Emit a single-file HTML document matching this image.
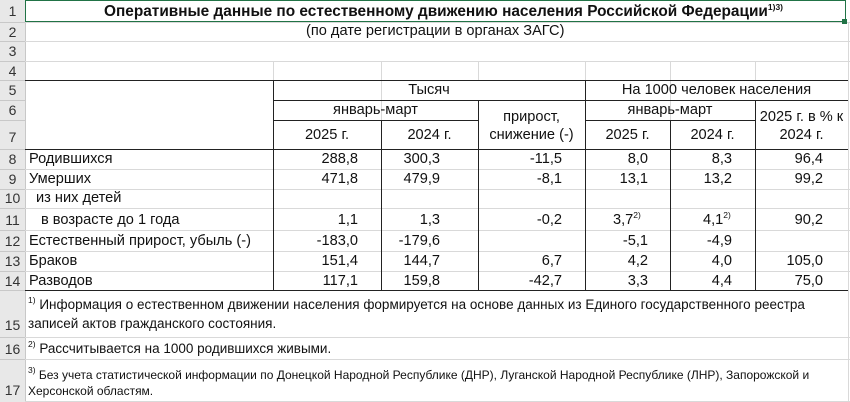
<!DOCTYPE html>
<html><head><meta charset="utf-8"><style>
body{margin:0;width:850px;height:402px;background:#fff;position:relative;overflow:hidden;font-family:"Liberation Sans",Arial,sans-serif;font-size:14.6px;color:#111}
.a{position:absolute;white-space:nowrap}
.h{position:absolute;background:#d9d9d9}
.v{position:absolute;background:#d9d9d9}
.bh{position:absolute;background:#222;height:1px}
.bv{position:absolute;background:#222;width:1px}
.rn{position:absolute;left:0;width:25px;text-align:center;color:#333;font-size:14px}
.r{text-align:right}
.c{text-align:center}
.f{font-size:13.5px}
sup{font-size:8.5px;vertical-align:6px;line-height:0}
</style></head><body>
<div style="position:absolute;left:0;top:0;width:25px;height:402px;background:#e8e8e8;border-right:1px solid #c8c8c8"></div>
<div class="h" style="left:25px;top:22px;width:825px;height:1px"></div>
<div class="h" style="left:25px;top:41px;width:825px;height:1px"></div>
<div class="h" style="left:25px;top:61px;width:825px;height:1px"></div>
<div class="h" style="left:25px;top:169px;width:825px;height:1px"></div>
<div class="h" style="left:25px;top:189px;width:825px;height:1px"></div>
<div class="h" style="left:25px;top:208px;width:825px;height:1px"></div>
<div class="h" style="left:25px;top:230px;width:825px;height:1px"></div>
<div class="h" style="left:25px;top:251px;width:825px;height:1px"></div>
<div class="h" style="left:25px;top:271px;width:825px;height:1px"></div>
<div class="h" style="left:25px;top:337px;width:825px;height:1px"></div>
<div class="h" style="left:25px;top:359px;width:825px;height:1px"></div>
<div class="h" style="left:25px;top:401px;width:825px;height:1px"></div>
<div class="h" style="left:0;top:22px;width:25px;height:1px;background:#c8c8c8"></div>
<div class="h" style="left:0;top:41px;width:25px;height:1px;background:#c8c8c8"></div>
<div class="h" style="left:0;top:61px;width:25px;height:1px;background:#c8c8c8"></div>
<div class="h" style="left:0;top:80px;width:25px;height:1px;background:#c8c8c8"></div>
<div class="h" style="left:0;top:100px;width:25px;height:1px;background:#c8c8c8"></div>
<div class="h" style="left:0;top:120px;width:25px;height:1px;background:#c8c8c8"></div>
<div class="h" style="left:0;top:149px;width:25px;height:1px;background:#c8c8c8"></div>
<div class="h" style="left:0;top:169px;width:25px;height:1px;background:#c8c8c8"></div>
<div class="h" style="left:0;top:189px;width:25px;height:1px;background:#c8c8c8"></div>
<div class="h" style="left:0;top:208px;width:25px;height:1px;background:#c8c8c8"></div>
<div class="h" style="left:0;top:230px;width:25px;height:1px;background:#c8c8c8"></div>
<div class="h" style="left:0;top:251px;width:25px;height:1px;background:#c8c8c8"></div>
<div class="h" style="left:0;top:271px;width:25px;height:1px;background:#c8c8c8"></div>
<div class="h" style="left:0;top:290px;width:25px;height:1px;background:#c8c8c8"></div>
<div class="h" style="left:0;top:337px;width:25px;height:1px;background:#c8c8c8"></div>
<div class="h" style="left:0;top:359px;width:25px;height:1px;background:#c8c8c8"></div>
<div class="v" style="left:273px;top:61px;width:1px;height:19px"></div>
<div class="v" style="left:381px;top:61px;width:1px;height:59px"></div>
<div class="v" style="left:478px;top:61px;width:1px;height:19px"></div>
<div class="v" style="left:585px;top:61px;width:1px;height:19px"></div>
<div class="v" style="left:670px;top:61px;width:1px;height:59px"></div>
<div class="v" style="left:755px;top:61px;width:1px;height:19px"></div>
<div class="v" style="left:848px;top:22px;width:1px;height:380px"></div>
<div style="position:absolute;left:25px;top:0;width:819px;height:20px;border:1px solid #217346"></div>
<div style="position:absolute;left:842px;top:19px;width:5px;height:5px;background:#217346"></div>
<div class="bh" style="left:25px;top:80px;width:823px"></div>
<div class="bh" style="left:273px;top:100px;width:575px"></div>
<div class="bh" style="left:273px;top:120px;width:205px"></div>
<div class="bh" style="left:585px;top:120px;width:170px"></div>
<div class="bh" style="left:25px;top:149px;width:823px"></div>
<div class="bh" style="left:25px;top:290px;width:823px"></div>
<div class="bv" style="left:273px;top:80px;height:210px"></div>
<div class="bv" style="left:381px;top:120px;height:170px"></div>
<div class="bv" style="left:478px;top:100px;height:190px"></div>
<div class="bv" style="left:585px;top:80px;height:210px"></div>
<div class="bv" style="left:670px;top:120px;height:170px"></div>
<div class="bv" style="left:755px;top:100px;height:190px"></div>
<div class="rn" style="top:3px">1</div>
<div class="rn" style="top:24px">2</div>
<div class="rn" style="top:43px">3</div>
<div class="rn" style="top:63px">4</div>
<div class="rn" style="top:82px">5</div>
<div class="rn" style="top:102px">6</div>
<div class="rn" style="top:129px">7</div>
<div class="rn" style="top:151px">8</div>
<div class="rn" style="top:171px">9</div>
<div class="rn" style="top:190px">10</div>
<div class="rn" style="top:212px">11</div>
<div class="rn" style="top:233px">12</div>
<div class="rn" style="top:253px">13</div>
<div class="rn" style="top:273px">14</div>
<div class="rn" style="top:317px">15</div>
<div class="rn" style="top:341px">16</div>
<div class="rn" style="top:382px">17</div>
<div class="a" style="left:104px;top:3px;font-weight:bold;font-size:15.4px">Оперативные данные по естественному движению населения Российской Федерации<sup>1)3)</sup></div>
<div class="a" style="left:306px;top:23px">(по дате регистрации в органах ЗАГС)</div>
<div class="a c" style="left:273px;width:312px;top:82px">Тысяч</div>
<div class="a c" style="left:585px;width:263px;top:82px">На 1000 человек населения</div>
<div class="a c" style="left:273px;width:205px;top:102px">январь-март</div>
<div class="a c" style="left:585px;width:170px;top:102px">январь-март</div>
<div class="a c" style="left:478px;width:107px;top:109px">прирост,</div>
<div class="a c" style="left:478px;width:107px;top:127px">снижение (-)</div>
<div class="a c" style="left:755px;width:93px;top:109px">2025 г. в % к</div>
<div class="a c" style="left:755px;width:93px;top:127px">2024 г.</div>
<div class="a c" style="left:273px;width:108px;top:127px">2025 г.</div>
<div class="a c" style="left:381px;width:97px;top:127px">2024 г.</div>
<div class="a c" style="left:585px;width:85px;top:127px">2025 г.</div>
<div class="a c" style="left:670px;width:85px;top:127px">2024 г.</div>
<div class="a" style="left:29px;top:151px">Родившихся</div>
<div class="a" style="left:29px;top:171px">Умерших</div>
<div class="a" style="left:36px;top:190px">из них детей</div>
<div class="a" style="left:41px;top:212px">в возрасте до 1 года</div>
<div class="a" style="left:29px;top:233px">Естественный прирост, убыль (-)</div>
<div class="a" style="left:29px;top:253px">Браков</div>
<div class="a" style="left:29px;top:273px">Разводов</div>
<div class="a r" style="right:492px;top:151px">288,8</div>
<div class="a r" style="right:410px;top:151px">300,3</div>
<div class="a r" style="right:288px;top:151px">-11,5</div>
<div class="a r" style="right:202px;top:151px">8,0</div>
<div class="a r" style="right:118px;top:151px">8,3</div>
<div class="a r" style="right:27px;top:151px">96,4</div>
<div class="a r" style="right:492px;top:171px">471,8</div>
<div class="a r" style="right:410px;top:171px">479,9</div>
<div class="a r" style="right:288px;top:171px">-8,1</div>
<div class="a r" style="right:202px;top:171px">13,1</div>
<div class="a r" style="right:118px;top:171px">13,2</div>
<div class="a r" style="right:27px;top:171px">99,2</div>
<div class="a r" style="right:492px;top:212px">1,1</div>
<div class="a r" style="right:410px;top:212px">1,3</div>
<div class="a r" style="right:288px;top:212px">-0,2</div>
<div class="a" style="left:613px;top:212px">3,7<sup>2)</sup></div>
<div class="a" style="left:703px;top:212px">4,1<sup>2)</sup></div>
<div class="a r" style="right:27px;top:212px">90,2</div>
<div class="a r" style="right:492px;top:233px">-183,0</div>
<div class="a r" style="right:410px;top:233px">-179,6</div>
<div class="a r" style="right:202px;top:233px">-5,1</div>
<div class="a r" style="right:118px;top:233px">-4,9</div>
<div class="a r" style="right:492px;top:253px">151,4</div>
<div class="a r" style="right:410px;top:253px">144,7</div>
<div class="a r" style="right:288px;top:253px">6,7</div>
<div class="a r" style="right:202px;top:253px">4,2</div>
<div class="a r" style="right:118px;top:253px">4,0</div>
<div class="a r" style="right:27px;top:253px">105,0</div>
<div class="a r" style="right:492px;top:273px">117,1</div>
<div class="a r" style="right:410px;top:273px">159,8</div>
<div class="a r" style="right:288px;top:273px">-42,7</div>
<div class="a r" style="right:202px;top:273px">3,3</div>
<div class="a r" style="right:118px;top:273px">4,4</div>
<div class="a r" style="right:27px;top:273px">75,0</div>
<div class="a f" style="left:28px;top:297px"><sup>1)</sup> Информация о естественном движении населения формируется на основе данных из Единого государственного реестра</div>
<div class="a f" style="left:28px;top:316px">записей актов гражданского состояния.</div>
<div class="a f" style="left:28px;top:341px"><sup>2)</sup> Рассчитывается на 1000 родившихся живыми.</div>
<div class="a" style="left:28px;top:368px;font-size:12px"><sup>3)</sup> Без учета статистической информации по Донецкой Народной Республике (ДНР), Луганской Народной Республике (ЛНР), Запорожской и</div>
<div class="a" style="left:28px;top:384px;font-size:12px">Херсонской областям.</div>
</body></html>
